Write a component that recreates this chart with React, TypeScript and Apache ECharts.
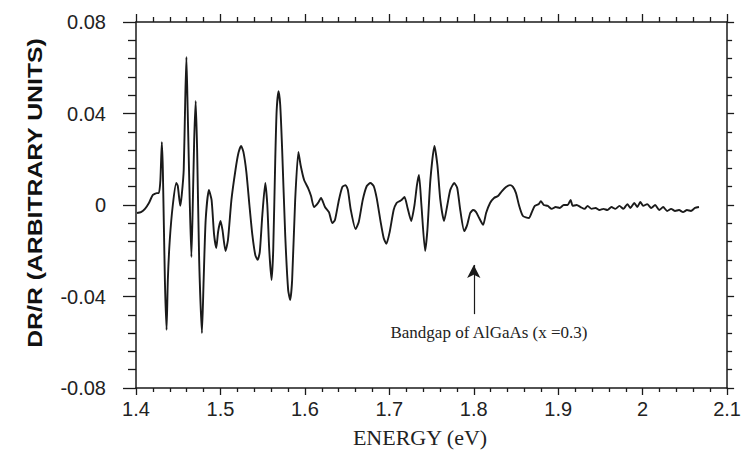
import { useEffect, useRef } from "react";
import * as echarts from "echarts";

// Photon energy (eV)
const energy = [
  1.4012, 1.4059, 1.4106, 1.4153, 1.42, 1.4247, 1.4271, 1.4289, 1.4306, 1.4318,
  1.4342, 1.4362, 1.4377, 1.44, 1.4436, 1.4477, 1.4495, 1.4524, 1.4542, 1.4565,
  1.4583, 1.4597, 1.4612, 1.4636, 1.4656, 1.4671, 1.4689, 1.4707, 1.4724, 1.4748,
  1.4781, 1.4801, 1.4825, 1.4863, 1.4895, 1.4925, 1.4951, 1.4972, 1.5001, 1.5024,
  1.506, 1.5089, 1.513, 1.5178, 1.5213, 1.5245, 1.5272, 1.5307, 1.5343, 1.5378,
  1.5413, 1.5441, 1.5466, 1.5496, 1.5531, 1.5555, 1.5578, 1.5605, 1.5625, 1.5649,
  1.5666, 1.5688, 1.5708, 1.5731, 1.5767, 1.5802, 1.5826, 1.5849, 1.5885, 1.5923,
  1.5949, 1.5991, 1.6038, 1.6073, 1.6108, 1.6156, 1.6191, 1.6238, 1.6285, 1.6324,
  1.6356, 1.6403, 1.6444, 1.6482, 1.6509, 1.6544, 1.66, 1.6638, 1.6685, 1.6733,
  1.6776, 1.6815, 1.685, 1.6897, 1.6933, 1.6965, 1.7004, 1.7051, 1.7086, 1.7122,
  1.7145, 1.718, 1.7216, 1.7259, 1.7298, 1.7327, 1.7351, 1.738, 1.7424, 1.7451,
  1.7486, 1.7534, 1.7569, 1.7604, 1.7648, 1.7687, 1.7722, 1.7769, 1.7804, 1.784,
  1.7887, 1.7922, 1.7958, 1.7993, 1.8028, 1.8064, 1.8111, 1.8146, 1.8193, 1.824,
  1.8287, 1.8334, 1.8382, 1.8429, 1.8464, 1.85, 1.8535, 1.8582, 1.8653, 1.8688,
  1.8723, 1.877, 1.8794, 1.8829, 1.8876, 1.8923, 1.897, 1.9018, 1.9065, 1.9112,
  1.9147, 1.9171, 1.9218, 1.9265, 1.9312, 1.9348, 1.9395, 1.9442, 1.9489, 1.9536,
  1.9583, 1.963, 1.9677, 1.9725, 1.9772, 1.9819, 1.9854, 1.9901, 1.9936, 1.9972,
  2.0007, 2.0054, 2.0101, 2.0148, 2.0196, 2.0243, 2.029, 2.0337, 2.0384, 2.0431,
  2.0478, 2.0525, 2.0572, 2.062, 2.0667,
];

// DR/R (arbitrary units)
const dr = [
  -0.0035, -0.0031, -0.0017, 0.0009, 0.0044, 0.0052, 0.0052, 0.0109, 0.0275, 0.0153,
  -0.0328, -0.0546, -0.0328, -0.0153, 0.0, 0.0096, 0.0083, -0.0004, 0.0044, 0.0153,
  0.0459, 0.0647, 0.0415, 0.0022, -0.0227, -0.0022, 0.0284, 0.0455, 0.024, -0.024,
  -0.056, -0.0328, -0.0066, 0.0066, 0.0022, -0.0131, -0.0188, -0.0118, -0.007, -0.0109,
  -0.0201, -0.0153, 0.0022, 0.0153, 0.0227, 0.0258, 0.0232, 0.0144, 0.0, -0.0131,
  -0.0219, -0.024, -0.0205, -0.0044, 0.0096, 0.0, -0.0197, -0.0328, -0.0197, 0.0197,
  0.0415, 0.0498, 0.0437, 0.024, -0.0131, -0.0372, -0.0415, -0.0328, 0.0022, 0.0232,
  0.0175, 0.0109, 0.0074, 0.0039, -0.0009, 0.0009, 0.0031, -0.0009, -0.0031, -0.0079,
  -0.0066, 0.0022, 0.0079, 0.0087, 0.0066, -0.0022, -0.0105, -0.0074, 0.0022, 0.0083,
  0.0096, 0.0083, 0.0031, -0.0074, -0.0144, -0.017, -0.0118, -0.0022, 0.0009, 0.0017,
  0.0022, 0.0035, -0.0013, -0.007, 0.0, 0.0087, 0.0131, 0.0, -0.0201, -0.0109,
  0.0109, 0.0258, 0.0175, 0.0022, -0.007, 0.0, 0.0066, 0.0096, 0.0074, -0.0022,
  -0.0114, -0.0087, -0.0035, -0.0022, -0.0031, -0.0057, -0.0087, -0.0035, 0.0009, 0.0031,
  0.0039, 0.0061, 0.0079, 0.0087, 0.0079, 0.0052, 0.0, -0.0048, -0.0057, -0.0031,
  -0.0004, 0.0004, 0.0017, 0.0, -0.0004, -0.0017, -0.0009, -0.0013, 0.0, 0.0,
  0.0022, -0.0004, 0.0, -0.0009, -0.0017, -0.0004, -0.0017, -0.0013, -0.0022, -0.0017,
  -0.0022, -0.0009, -0.0017, -0.0004, -0.0017, 0.0004, -0.0013, 0.0009, -0.0009, 0.0013,
  -0.0004, 0.0004, -0.0013, 0.0, -0.0022, -0.0009, -0.0026, -0.0017, -0.0026, -0.0022,
  -0.0031, -0.0022, -0.0026, -0.0013, -0.0009,
];

// Bandgap annotation arrow (energy, DR/R from -> to)
const arrowEnergy = 1.8;
const arrowFrom = -0.0477;
const arrowTo = -0.0262;
const annotationText = "Bandgap of AlGaAs (x =0.3)";
const xTitle = "ENERGY (eV)";
const yTitle = "DR/R (ARBITRARY UNITS)";

const INK = "#1a1a1a";

export default function App() {
  const ref = useRef<HTMLDivElement>(null);

  useEffect(() => {
    const chart = echarts.init(ref.current!, null, { renderer: "svg" });
    const axisLine = { show: true, onZero: false, lineStyle: { color: INK, width: 1.5 } };
    const tickStyle = { color: INK, width: 1.3 };
    const xFmt = (v: number) => String(Math.round(v * 10) / 10);
    const yFmt = (v: number) => (Math.abs(v) < 1e-9 ? "0" : v.toFixed(2));

    chart.setOption({
      animation: false,
      backgroundColor: "#ffffff",
      grid: { left: 136, right: 14, top: 22, bottom: 62, containLabel: false },
      xAxis: [
        {
          type: "value",
          position: "bottom",
          min: 1.4,
          max: 2.1,
          interval: 0.1,
          axisLine,
          axisTick: { show: true, inside: false, length: 7, lineStyle: tickStyle },
          minorTick: { show: true, splitNumber: 5, length: 4, lineStyle: tickStyle },
          splitLine: { show: false },
          minorSplitLine: { show: false },
          axisLabel: {
            formatter: xFmt,
            fontSize: 20,
            color: "#222",
            fontFamily: "Liberation Sans, Arial, sans-serif",
            margin: 11,
          },
        },
        {
          type: "value",
          position: "top",
          min: 1.4,
          max: 2.1,
          interval: 0.1,
          axisLine,
          axisTick: { show: true, inside: false, length: 8, lineStyle: tickStyle },
          minorTick: { show: true, splitNumber: 5, length: 5, lineStyle: tickStyle },
          splitLine: { show: false },
          axisLabel: { show: false },
        },
      ],
      yAxis: [
        {
          type: "value",
          position: "left",
          min: -0.08,
          max: 0.08,
          interval: 0.04,
          axisLine,
          axisTick: { show: true, inside: false, length: 13, lineStyle: tickStyle },
          minorTick: { show: true, splitNumber: 5, length: 8, lineStyle: tickStyle },
          splitLine: { show: false },
          minorSplitLine: { show: false },
          axisLabel: {
            formatter: yFmt,
            fontSize: 20,
            color: "#222",
            fontFamily: "Liberation Sans, Arial, sans-serif",
            margin: 30,
          },
        },
        {
          type: "value",
          position: "right",
          min: -0.08,
          max: 0.08,
          interval: 0.04,
          axisLine,
          axisTick: { show: true, inside: false, length: 7, lineStyle: tickStyle },
          minorTick: { show: true, splitNumber: 5, length: 5, lineStyle: tickStyle },
          splitLine: { show: false },
          axisLabel: { show: false },
        },
      ],
      series: [
        {
          type: "line",
          xAxisIndex: 0,
          yAxisIndex: 0,
          data: energy.map((e, i) => [e, dr[i]]),
          showSymbol: false,
          symbol: "none",
          smooth: 0.2,
          lineStyle: { color: INK, width: 1.9 },
          silent: true,
          markLine: {
            silent: true,
            symbol: ["none", "arrow"],
            symbolSize: [10, 13],
            label: { show: false },
            lineStyle: { color: INK, width: 1.2, type: "solid" },
            data: [[{ coord: [arrowEnergy, arrowFrom] }, { coord: [arrowEnergy, arrowTo] }]],
          },
        },
      ],
      graphic: [
        {
          type: "text",
          x: 489,
          y: 332,
          style: {
            text: annotationText,
            font: "17px 'Liberation Serif', 'Times New Roman', serif",
            fill: "#222",
            align: "center",
            verticalAlign: "middle",
          },
        },
        {
          type: "text",
          x: 420,
          y: 437,
          style: {
            text: xTitle,
            font: "22px 'Liberation Serif', 'Times New Roman', serif",
            fill: "#222",
            align: "center",
            verticalAlign: "middle",
          },
        },
        {
          type: "text",
          x: 35,
          y: 193,
          rotation: Math.PI / 2,
          scaleX: 1.18,
          style: {
            text: yTitle,
            font: "bold 21px 'Liberation Sans', Arial, sans-serif",
            fill: "#111",
            align: "center",
            verticalAlign: "middle",
          },
        },
      ],
    });
    return () => chart.dispose();
  }, []);

  return (
    <div
      ref={ref}
      style={{ position: "absolute", left: 0, top: 0, width: 744, height: 450, background: "#fff" }}
    />
  );
}
